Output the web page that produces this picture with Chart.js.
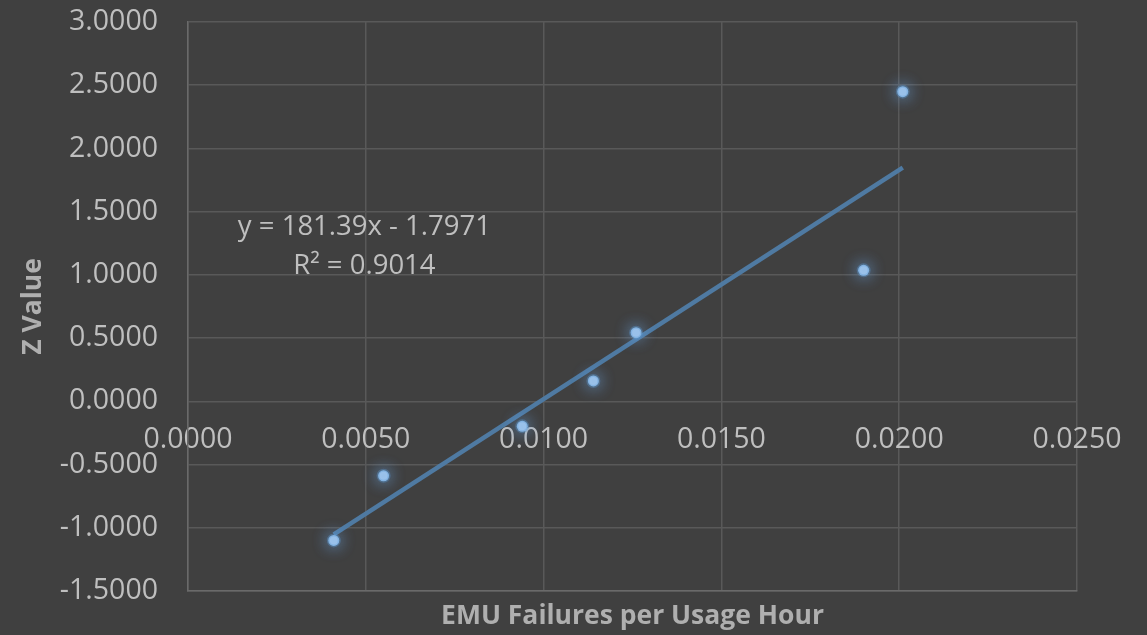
<!DOCTYPE html>
<html>
<head>
<meta charset="utf-8">
<script src="https://cdn.jsdelivr.net/npm/chart.js@4.4.1/dist/chart.umd.min.js"></script>
<style>
  html, body { margin: 0; padding: 0; background: #404040; }
  #wrap { width: 1147px; height: 635px; }
</style>
</head>
<body>
<div id="wrap"><canvas id="grafico"></canvas></div>
<script>
// valores
const falhasPorHora = [0.0041, 0.0055, 0.0094, 0.0114, 0.0126, 0.0190, 0.0201];
const valorZ = [-1.100, -0.589, -0.198, 0.161, 0.543, 1.036, 2.449];

// extremos da linha de tendência
const tendenciaX = [0.0041, 0.0201];
const tendenciaY = [-1.053, 1.849];

const equacao = 'y = 181.39x - 1.7971';
const r2 = 'R² = 0.9014';

const corTexto = '#bfbfbf';
const corGrade = '#595959';
const fonte = '"Open Sans", "Liberation Sans", sans-serif';

const pontos = falhasPorHora.map((x, i) => ({x: x, y: valorZ[i]}));
const tendencia = tendenciaX.map((x, i) => ({x: x, y: tendenciaY[i]}));

// brilho nos pontos
const brilho = {
    id: 'brilho',
    beforeDatasetDraw(chart, args) {
        if (args.index === 1) {
            chart.ctx.save();
            chart.ctx.shadowColor = 'rgba(110, 170, 235, 1)';
            chart.ctx.shadowBlur = 16;
        }
    },
    afterDatasetDraw(chart, args) {
        if (args.index === 1) chart.ctx.restore();
    }
};

// texto da equação da tendência
const rotuloTendencia = {
    id: 'rotuloTendencia',
    afterDatasetsDraw(chart) {
        const ctx = chart.ctx;
        const sx = chart.scales.x, sy = chart.scales.y;
        ctx.save();
        ctx.fillStyle = corTexto;
        ctx.font = '27.5px ' + fonte;
        ctx.textAlign = 'center';
        ctx.textBaseline = 'middle';
        const cx = sx.getPixelForValue(0.00496);
        ctx.fillText(equacao, cx, sy.getPixelForValue(1.38));
        ctx.fillText(r2, cx, sy.getPixelForValue(1.07));
        ctx.restore();
    }
};

new Chart(document.getElementById('grafico'), {
    data: {
        datasets: [{
            type: 'line',
            label: 'Tendência',
            data: tendencia,
            borderColor: '#4f7aa2',
            borderWidth: 4.5,
            pointRadius: 0,
            fill: false,
            tension: 0,
            order: 2
        }, {
            type: 'scatter',
            label: 'Z',
            data: pontos,
            backgroundColor: '#9dc3ea',
            borderColor: 'rgba(91, 155, 213, 0.35)',
            borderWidth: 3,
            pointRadius: 5.5,
            pointHoverRadius: 5.5,
            order: 1
        }]
    },
    options: {
        responsive: true,
        maintainAspectRatio: false,
        animation: false,
        layout: { padding: { top: 0, right: 70, left: 0, bottom: 0 } },
        plugins: {
            legend: { display: false },
            tooltip: { enabled: false }
        },
        scales: {
            x: {
                type: 'linear',
                position: 'bottom',
                min: 0,
                max: 0.025,
                ticks: { display: false, stepSize: 0.005 },
                grid: { color: corGrade, lineWidth: 1.5, drawTicks: false },
                border: { color: '#6a6a6a', width: 1.5 },
                title: {
                    display: true,
                    text: 'EMU Failures per Usage Hour',
                    color: '#afafaf',
                    font: { family: fonte, size: 26.5, weight: 'bold' },
                    padding: { top: 0, bottom: 3 }
                },
                afterFit(scale) { scale.height = 44; }
            },
            xz: {
                type: 'linear',
                position: { y: 0 },
                min: 0,
                max: 0.025,
                ticks: {
                    stepSize: 0.005,
                    autoSkip: false,
                    maxRotation: 0,
                    color: corTexto,
                    padding: 21,
                    font: { family: fonte, size: 28.5 },
                    callback: v => v.toFixed(4)
                },
                grid: { display: false, drawTicks: false },
                border: { display: false }
            },
            y: {
                type: 'linear',
                min: -1.5,
                max: 3,
                ticks: {
                    stepSize: 0.5,
                    color: corTexto,
                    padding: 30,
                    font: { family: fonte, size: 28.5 },
                    callback: v => v.toFixed(4)
                },
                grid: { color: corGrade, lineWidth: 1.5, drawTicks: false },
                border: { color: '#6a6a6a', width: 1.5 },
                title: {
                    display: true,
                    text: 'Z Value',
                    color: '#afafaf',
                    font: { family: fonte, size: 26.5, weight: 'bold' },
                    padding: { top: 18, bottom: 0 }
                },
                afterFit(scale) {
                    scale.width = 188;
                    scale.paddingTop = 22;
                    scale.paddingBottom = 0;
                }
            }
        }
    },
    plugins: [brilho, rotuloTendencia]
});
</script>
</body>
</html>
